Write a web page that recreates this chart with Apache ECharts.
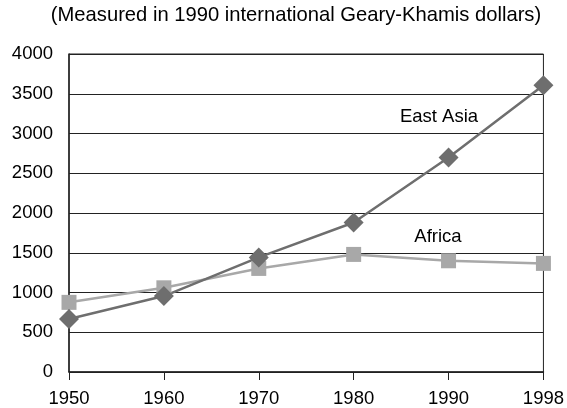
<!DOCTYPE html>
<html><head><meta charset="utf-8">
<script src="https://cdn.jsdelivr.net/npm/echarts@6/dist/echarts.min.js"></script>
<style>html,body{margin:0;padding:0;background:#fff}#c{width:567px;height:408px}</style>
</head><body><div id="c"></div>
<script>
const years = ['1950','1960','1970','1980','1990','1998'];
const eastAsia = [666, 955, 1441, 1881, 2697, 3606];
const africa = [876, 1059, 1303, 1479, 1399, 1366];
const titleText = '(Measured in 1990 international Geary-Khamis dollars)';
const font = '"Liberation Sans", Arial, sans-serif';
const chart = echarts.init(document.getElementById('c'));
chart.setOption({
  animation: false,
  backgroundColor: '#fff',
  graphic: [
    { type: 'text', style: { x: 296, y: 15, text: titleText, textAlign: 'center', textVerticalAlign: 'middle', fontFamily: font, fontSize: 20.2, fill: '#000' } },
    { type: 'text', style: { x: 439, y: 117, text: 'East Asia', textAlign: 'center', textVerticalAlign: 'middle', fontFamily: font, fontSize: 18.5, fill: '#000' } },
    { type: 'text', style: { x: 438, y: 237, text: 'Africa', textAlign: 'center', textVerticalAlign: 'middle', fontFamily: font, fontSize: 18.5, fill: '#000' } }
  ],
  grid: { left: 69, right: 21, top: 54, bottom: 36, show: true, borderColor: '#222', borderWidth: 1 },
  xAxis: { type: 'category', data: years, boundaryGap: false,
    axisLine: { lineStyle: { color: '#222', width: 1.5 } },
    axisTick: { show: true, length: 8, lineStyle: { color: '#222' } },
    axisLabel: { fontFamily: font, fontSize: 18.5, color: '#000', margin: 17 },
    splitLine: { show: false } },
  yAxis: { type: 'value', min: 0, max: 4000, interval: 500,
    axisLine: { show: true, lineStyle: { color: '#222', width: 1.5 } },
    axisTick: { show: false },
    axisLabel: { fontFamily: font, fontSize: 18.5, color: '#000', margin: 16, formatter: v => String(v) },
    splitLine: { lineStyle: { color: '#222', width: 1 } } },
  series: [
    { name: 'Africa', type: 'line', data: africa, symbol: 'rect', symbolSize: 15,
      lineStyle: { color: '#a8a8a8', width: 2.5 }, itemStyle: { color: '#a8a8a8' } },
    { name: 'East Asia', type: 'line', data: eastAsia, symbol: 'diamond', symbolSize: [20, 20],
      lineStyle: { color: '#6e6e6e', width: 2.5 }, itemStyle: { color: '#6e6e6e' } }
  ]
});
</script></body></html>
